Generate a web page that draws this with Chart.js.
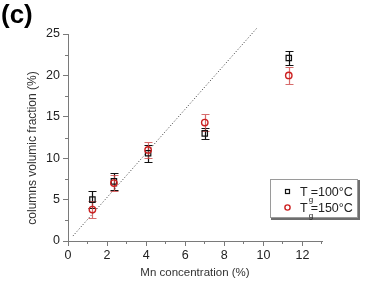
<!DOCTYPE html>
<html>
<head>
<meta charset="utf-8">
<script src="https://cdn.jsdelivr.net/npm/chart.js@4.4.0/dist/chart.umd.min.js"></script>
<style>
  body { margin: 0; background: #fff; }
  #wrap { width: 374px; height: 289px; }
</style>
</head>
<body>
<div id="wrap"><canvas id="chart-mn" width="374" height="289"></canvas></div>
<script>
    // Tg = 100 C (black squares)
    var mn100 = [1.25, 2.35, 4.1, 7.0, 11.3];
    var frac100 = [5.0, 7.2, 10.6, 13.0, 22.1];
    var err100 = [1.0, 1.0, 1.0, 0.7, 0.9];

    // Tg = 150 C (red circles)
    var mn150 = [1.25, 2.35, 4.1, 7.0, 11.3];
    var frac150 = [3.8, 7.0, 11.0, 14.3, 20.0];
    var err150 = [1.0, 1.0, 1.0, 1.0, 1.05];

    // dotted guide line
    var guideX = [0.25, 9.7];
    var guideY = [0.6, 25.8];

    // tick labels
    var xTicks = [0, 2, 4, 6, 8, 10, 12];
    var yTicks = [0, 5, 10, 15, 20, 25];

    var legendLabels = ['100°C', '150°C'];
    var yTitle = 'columns volumic fraction (%)';
    var fontFam = '"Liberation Sans", Arial, sans-serif';
    var axisGray = '#7a7a7a';
    var redCol = '#cc2020';

    function toPoints(xs, ys) {
        return xs.map(function(x, i) { return { x: x, y: ys[i] }; });
    }

    var errorBarsPlugin = {
        id: 'errorBars',
        beforeDatasetsDraw: function(chart) {
            var ctx = chart.ctx;
            var xs = chart.scales.x, ys = chart.scales.y;
            var sets = [
                { x: mn100, y: frac100, e: err100, color: '#111' },
                { x: mn150, y: frac150, e: err150, color: 'rgba(205,70,70,0.8)' }
            ];
            ctx.save();
            ctx.lineWidth = 1.2;
            sets.forEach(function(s) {
                ctx.strokeStyle = s.color;
                for (var i = 0; i < s.x.length; i++) {
                    var px = Math.round(xs.getPixelForValue(s.x[i])) + 0.5;
                    var top = Math.round(ys.getPixelForValue(s.y[i] + s.e[i])) + 0.5;
                    var bot = Math.round(ys.getPixelForValue(s.y[i] - s.e[i])) + 0.5;
                    ctx.beginPath();
                    ctx.moveTo(px, top); ctx.lineTo(px, bot);
                    ctx.moveTo(px - 4, top); ctx.lineTo(px + 4, top);
                    ctx.moveTo(px - 4, bot); ctx.lineTo(px + 4, bot);
                    ctx.stroke();
                }
            });
            ctx.restore();
        }
    };

    var minorTicksPlugin = {
        id: 'minorTicks',
        afterDraw: function(chart) {
            var ctx = chart.ctx;
            var xs = chart.scales.x, ys = chart.scales.y;
            var area = chart.chartArea;
            ctx.save();
            ctx.strokeStyle = axisGray;
            ctx.lineWidth = 1;
            ctx.beginPath();
            for (var v = 1; v <= 13; v += 2) {
                var px = Math.round(xs.getPixelForValue(v)) - 0.5;
                ctx.moveTo(px, area.bottom); ctx.lineTo(px, area.bottom + 3);
            }
            for (var w = 2.5; w < 25; w += 5) {
                var py = Math.round(ys.getPixelForValue(w)) + 0.5;
                ctx.moveTo(area.left - 3, py); ctx.lineTo(area.left, py);
            }
            ctx.stroke();
            ctx.restore();
        }
    };

    var decorPlugin = {
        id: 'decor',
        afterDraw: function(chart) {
            var ctx = chart.ctx;
            ctx.save();
            // panel letter
            ctx.fillStyle = '#000';
            ctx.font = 'bold 26px ' + fontFam;
            ctx.textBaseline = 'alphabetic';
            ctx.fillText('(c)', 1, 23);

            // y axis title
            ctx.save();
            ctx.translate(33, 148);
            ctx.rotate(-Math.PI / 2);
            ctx.textAlign = 'center';
            ctx.textBaseline = 'middle';
            ctx.fillStyle = '#333';
            ctx.font = '12px ' + fontFam;
            ctx.fillText(yTitle, 0, 0);
            ctx.restore();

            // legend box
            ctx.strokeStyle = '#9a9a9a';
            ctx.lineWidth = 1;
            ctx.strokeRect(270.5, 179.5, 87, 38);
            ctx.strokeStyle = '#6e6e6e';
            ctx.lineWidth = 2;
            ctx.beginPath();
            ctx.moveTo(271, 219); ctx.lineTo(359, 219); ctx.lineTo(359, 180);
            ctx.stroke();

            // markers
            ctx.lineWidth = 1.2;
            ctx.strokeStyle = '#111';
            ctx.strokeRect(285.5, 189.5, 4, 4);
            ctx.strokeStyle = redCol;
            ctx.lineWidth = 1.4;
            ctx.beginPath();
            ctx.arc(287.5, 207.5, 2.6, 0, Math.PI * 2);
            ctx.stroke();

            // labels with subscript g
            ctx.fillStyle = '#222';
            var rows = [196, 212];
            legendLabels.forEach(function(txt, i) {
                var x0 = 300, yb = rows[i];
                ctx.font = '12.5px ' + fontFam;
                ctx.fillText('T', x0, yb);
                var tw = ctx.measureText('T').width;
                ctx.font = '8px ' + fontFam;
                ctx.fillText('g', x0 + tw + 1, yb + 6);
                ctx.font = '12.5px ' + fontFam;
                ctx.fillText('=' + txt, x0 + tw + 3, yb);
            });
            ctx.restore();
        }
    };

    var configMn = {
        type: 'scatter',
        data: {
            datasets: [{
                label: 'Tg=150°C',
                data: toPoints(mn150, frac150),
                pointStyle: 'circle',
                pointRadius: 3.2,
                borderColor: redCol,
                backgroundColor: 'rgba(255,255,255,0)',
                borderWidth: 1.4,
                order: 0
            }, {
                label: 'Tg=100°C',
                data: toPoints(mn100, frac100),
                pointStyle: 'rect',
                pointRadius: 3.8,
                borderColor: '#111',
                backgroundColor: 'rgba(255,255,255,0)',
                borderWidth: 1.2,
                order: 1
            }, {
                type: 'line',
                label: 'guide',
                data: toPoints(guideX, guideY),
                borderColor: '#333',
                borderWidth: 1,
                borderDash: [1, 2],
                pointRadius: 0,
                fill: false,
                clip: false,
                order: 2
            }]
        },
        options: {
            responsive: false,
            animation: false,
            layout: { padding: { left: 0, top: 34, right: 52, bottom: 0 } },
            plugins: {
                legend: { display: false },
                tooltip: { enabled: false }
            },
            scales: {
                x: {
                    type: 'linear',
                    min: 0,
                    max: 13,
                    afterBuildTicks: function(scale) {
                        scale.ticks = xTicks.map(function(v) { return { value: v }; });
                    },
                    afterFit: function(scale) { scale.height = 48; },
                    border: { color: axisGray, width: 1 },
                    grid: { drawOnChartArea: false, tickLength: 5, color: axisGray },
                    ticks: {
                        padding: 2,
                        color: '#222',
                        font: { family: fontFam, size: 12.5 },
                        maxRotation: 0,
                        autoSkip: false
                    },
                    title: {
                        display: true,
                        text: 'Mn concentration (%)',
                        color: '#333',
                        font: { family: fontFam, size: 11.5 },
                        padding: { top: 0, bottom: 9 }
                    }
                },
                y: {
                    type: 'linear',
                    min: 0,
                    max: 25,
                    afterBuildTicks: function(scale) {
                        scale.ticks = yTicks.map(function(v) { return { value: v }; });
                    },
                    afterFit: function(scale) { scale.width = 68; },
                    border: { color: axisGray, width: 1 },
                    grid: { drawOnChartArea: false, tickLength: 5, color: axisGray },
                    ticks: {
                        padding: 3,
                        color: '#222',
                        font: { family: fontFam, size: 12.5 },
                        autoSkip: false
                    }
                }
            }
        },
        plugins: [errorBarsPlugin, minorTicksPlugin, decorPlugin]
    };

    window.onload = function() {
        var ctxMn = document.getElementById('chart-mn').getContext('2d');
        window.myScatter = new Chart(ctxMn, configMn);
    };
</script>
</body>
</html>
